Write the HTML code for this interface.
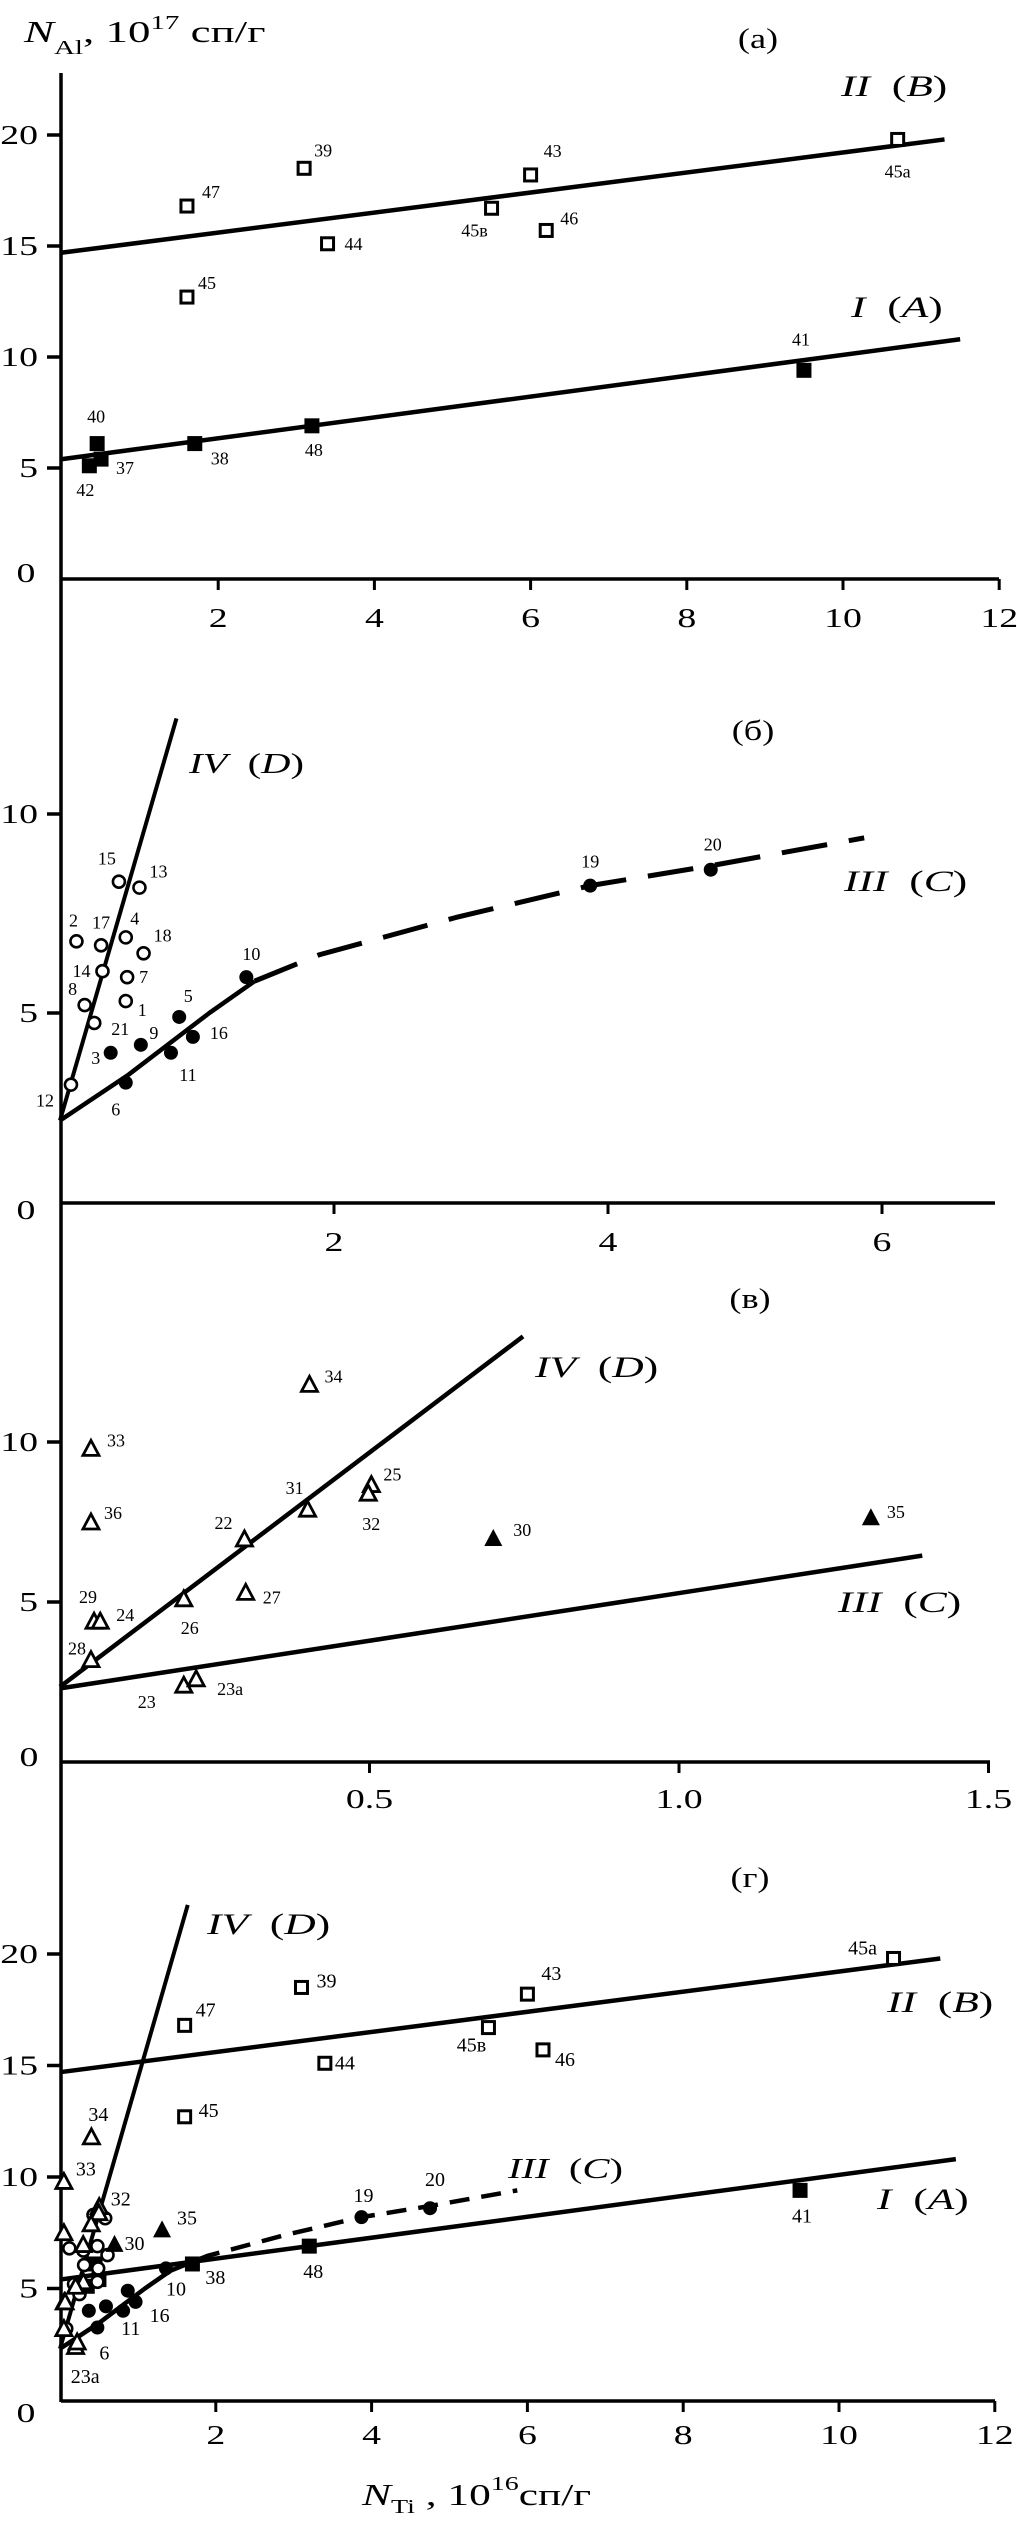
<!DOCTYPE html>
<html><head><meta charset="utf-8">
<style>
html,body{margin:0;padding:0;background:#fff;}
svg{display:block;}
text{font-family:"Liberation Serif","DejaVu Serif",serif;fill:#000;}
</style></head>
<body>
<svg id="fig" width="1017" height="2522" viewBox="0 0 1017 2522" xmlns="http://www.w3.org/2000/svg"></svg>
<script>
// ---------- DATA ----------
const openSqLabels = ["47","39","43","45а","45в","46","44","45"];
const openSqX = [1.6,3.1,6.0,10.7,5.5,6.2,3.4,1.6];
const openSqY = [16.8,18.5,18.2,19.8,16.7,15.7,15.1,12.7];
const fillSqLabels = ["41","40","37","42","38","48"];
const fillSqX = [9.5,0.45,0.5,0.35,1.7,3.2];
const fillSqY = [9.4,6.1,5.4,5.1,6.1,6.9];
const openCircLabels = ["15","13","2","17","4","18","14","7","8","1","21","12"];
const openCircX = [0.43,0.58,0.12,0.30,0.48,0.61,0.31,0.49,0.18,0.48,0.25,0.08];
const openCircY = [8.3,8.15,6.8,6.7,6.9,6.5,6.05,5.9,5.2,5.3,4.75,3.2];
const fillCircLabels = ["5","16","9","3","11","6","10","19","20"];
const fillCircX = [0.87,0.97,0.59,0.37,0.81,0.48,1.36,3.87,4.75];
const fillCircY = [4.9,4.4,4.2,4.0,4.0,3.25,5.9,8.2,8.6];
const openTriLabels = ["34","33","36","25","32","31","22","27","26","29","24","28","23","23а"];
const openTriX = [0.403,0.05,0.05,0.503,0.498,0.40,0.298,0.30,0.20,0.055,0.065,0.05,0.20,0.22];
const openTriY = [11.8,9.8,7.5,8.67,8.4,7.9,6.97,5.3,5.1,4.4,4.4,3.2,2.4,2.6];
const fillTriLabels = ["30","35"];
const fillTriX = [0.70,1.31];
const fillTriY = [7.0,7.65];
// fit lines [x0,y0,x1,y1]
const lineI = [0,5.4,11.5,10.8];
const lineII = [0,14.7,11.3,19.8];
const lineIVb = [0,2.3,0.85,12.4];
const lineIVg = [0,2.3,1.64,22.2];
const curveIIIsolidX = [0,0.5,1.09,1.42];
const curveIIIsolidY = [2.3,3.45,5.0,5.8];
const curveIIIdashX = [1.42,1.89,2.89,3.87,4.75,5.87];
const curveIIIdashY = [5.8,6.46,7.4,8.2,8.7,9.4];
const lineIIIv = [0,2.3,1.393,6.45];
const lineIVv = [0,2.35,0.748,13.3];
// ticks
const ticksAX = [2,4,6,8,10,12], ticksAY = [0,5,10,15,20];
const ticksBX = [2,4,6], ticksBY = [0,5,10];
const ticksVX = [0.5,1.0,1.5], ticksVXlab = ["0.5","1.0","1.5"], ticksVY = [0,5,10];
const ticksGX = [2,4,6,8,10,12], ticksGY = [0,5,10,15,20];

// ---------- label offsets (style) ----------
const offA = {"47":[15,-14,"start"],"39":[10,-18,"start"],"43":[13,-24,"start"],"45а":[0,32,"middle"],"45в":[-17,22,"middle"],"46":[14,-12,"start"],"44":[17,0,"start"],"45":[11,-14,"start"],"41":[-3,-31,"middle"],"40":[-1,-27,"middle"],"37":[15,9,"start"],"42":[-4,24,"middle"],"38":[16,15,"start"],"48":[2,24,"middle"]};
const offB = {"15":[-12,-23,"middle"],"13":[10,-16,"start"],"2":[-3,-21,"middle"],"17":[0,-23,"middle"],"4":[9,-19,"middle"],"18":[10,-18,"start"],"14":[-21,0,"middle"],"7":[12,0,"start"],"8":[-12,-16,"middle"],"1":[12,9,"start"],"21":[26,6,"middle"],"12":[-26,16,"middle"],"3":[-15,5,"middle"],"9":[13,-12,"middle"],"5":[9,-21,"middle"],"16":[17,-4,"start"],"11":[17,22,"middle"],"6":[-10,27,"middle"],"10":[5,-23,"middle"],"19":[0,-24,"middle"],"20":[2,-25,"middle"]};
const offV = {"34":[15,-8,"start"],"33":[16,-8,"start"],"36":[13,-9,"start"],"25":[12,-10,"start"],"32":[3,31,"middle"],"31":[-13,-21,"middle"],"22":[-21,-16,"middle"],"27":[17,5,"start"],"26":[6,29,"middle"],"29":[-6,-24,"middle"],"24":[16,-6,"start"],"28":[-14,-11,"middle"],"23":[-37,17,"middle"],"23а":[21,10,"start"],"30":[20,-8,"start"],"35":[16,-5,"start"]};
const offG = {"45а":[-31,-10,"middle"],"39":[15,-6,"start"],"43":[14,-20,"start"],"47":[11,-15,"start"],"45в":[-17,18,"middle"],"46":[12,10,"start"],"44":[10,0,"start"],"45":[14,-6,"start"],"41":[2,26,"middle"],"48":[4,26,"middle"],"38":[13,14,"start"],"34":[7,-22,"middle"],"33":[22,-12,"middle"],"32":[12,-13,"start"],"30":[10,0,"start"],"35":[15,-11,"start"],"23а":[8,35,"middle"],"6":[2,26,"start"],"11":[-2,18,"start"],"16":[14,14,"start"],"10":[10,21,"middle"],"19":[2,-21,"middle"],"20":[5,-28,"middle"]};

// ---------- helpers ----------
const svg = document.getElementById('fig');
const NS = 'http://www.w3.org/2000/svg';
function mk(tag, attrs, parent){ const e=document.createElementNS(NS,tag); for(const k in attrs) e.setAttribute(k,attrs[k]); (parent||svg).appendChild(e); return e; }
function txt(x,y,s,size,anchor,sx,parent){
  const t=mk('text',{transform:`translate(${x},${y}) scale(${sx||1},1)`,'font-size':size,'text-anchor':anchor||'start'},parent);
  t.textContent=s; return t;
}
function group(name){ const g=mk('g',{});   return g; }

function panel(key, X, Y, axY, xStart, xEnd, tx, txLab, ty, tyLabY, zeroLab){
  const g=group('panel-'+key);
  const ax=mk('line',{x1:xStart,y1:axY,x2:xEnd,y2:axY,stroke:'#000','stroke-width':3.5},g);
  
  
  tx.forEach((v,i)=>{
    const px=X(v);
    const tk=mk('line',{x1:px,y1:axY,x2:px,y2:axY+11,stroke:'#000','stroke-width':3},g);
    
    
    const t=txt(px,axY+tyLabY,txLab?txLab[i]:String(v),27,'middle',1.4,g);
    
    
  });
  ty.forEach(v=>{
    const py=Y(v);
    if(v!==0){
      const tk=mk('line',{x1:47,y1:py,x2:61,y2:py,stroke:'#000','stroke-width':3.5},g);
      
      
      const t=txt(38,py+9,String(v),27,'end',1.4,g);
      
      
    } else {
      const t=txt(zeroLab[0],zeroLab[1],'0',27,'middle',1.4,g);
      
      
    }
  });
  return g;
}
function line(g,X,Y,a,w,dash,name){
  const l=mk('line',{x1:X(a[0]),y1:Y(a[1]),x2:X(a[2]),y2:Y(a[3]),stroke:'#000','stroke-width':w||4.5},g);
  if(dash) l.setAttribute('stroke-dasharray',dash);
  
  
}
function poly(g,X,Y,xs,ys,w,dash,name){
  const p=mk('polyline',{points:xs.map((x,i)=>X(x)+','+Y(ys[i])).join(' '),fill:'none',stroke:'#000','stroke-width':w,'stroke-linejoin':'round'},g);
  if(dash) p.setAttribute('stroke-dasharray',dash);
  
  
}
function marker(g,type,px,py){
  let e;
  if(type==='osq') e=mk('rect',{x:px-6,y:py-6,width:12,height:12,fill:'#fff',stroke:'#000','stroke-width':3},g);
  else if(type==='fsq') e=mk('rect',{x:px-7.5,y:py-7.5,width:15,height:15,fill:'#000'},g);
  else if(type==='oc') e=mk('circle',{cx:px,cy:py,r:6,fill:'#fff',stroke:'#000','stroke-width':2.6},g);
  else if(type==='fc') e=mk('circle',{cx:px,cy:py,r:7,fill:'#000'},g);
  else if(type==='otri') e=mk('polygon',{points:`${px},${py-8} ${px-8},${py+7} ${px+8},${py+7}`,fill:'#fff',stroke:'#000','stroke-width':2.8,'stroke-linejoin':'miter'},g);
  else e=mk('polygon',{points:`${px},${py-9} ${px-9},${py+8} ${px+9},${py+8}`,fill:'#000'},g);
  return e;
}
function series(g,type,X,Y,xs,ys,labs,off,size,name){
  xs.forEach((x,i)=>{
    const px=X(x), py=Y(ys[i]);
    const m=marker(g,type,px,py);
    
    
    const o=off[labs[i]];
    if(o){
      const t=txt(px+o[0],py+o[1]+6,labs[i],size,o[2],1,g);
      
      
    }
  });
}
function lineLabel(g,x,y,roman,letter,size,name){
  const t=mk('text',{transform:`translate(${x},${y}) scale(1.45,1)`,'font-size':size},g);
  
  
  const a=mk('tspan',{'font-style':'italic'},t); a.textContent=roman;
  const b=mk('tspan',{},t); b.textContent='\u00a0\u00a0(';
  const c=mk('tspan',{'font-style':'italic'},t); c.textContent=letter;
  const d=mk('tspan',{},t); d.textContent=')';
}
function panelTitle(g,x,y,s){
  const t=txt(x,y,s,29,'middle',1.25,g);
  
  
}

// ---------- common y axis ----------
const yax=mk('line',{x1:61,y1:73,x2:61,y2:2402,stroke:'#000','stroke-width':3.5});



// y-axis title
const yt=mk('text',{transform:'translate(24,42) scale(1.45,1)','font-size':31});


(function(){const a=mk('tspan',{'font-style':'italic'},yt);a.textContent='N';
const b=mk('tspan',{'font-size':20,dy:12},yt);b.textContent='Al';
const c=mk('tspan',{dy:-12},yt);c.textContent=', 10';
const d=mk('tspan',{'font-size':20,dy:-13},yt);d.textContent='17';
const e=mk('tspan',{dy:13},yt);e.textContent=' сп/г';})();

// ---------- Panel A ----------
const XA=x=>62+x*78.1, YA=y=>579-y*22.2;
const gA=panel('a',XA,YA,579,61,999,ticksAX,null,ticksAY,48,[26,582]);
panelTitle(gA,758,48,'(а)');
line(gA,XA,YA,lineII,4.5,null,'fit-line-II');
line(gA,XA,YA,lineI,4.5,null,'fit-line-I');
series(gA,'osq',XA,YA,openSqX,openSqY,openSqLabels,offA,18,'open-square');
series(gA,'fsq',XA,YA,fillSqX,fillSqY,fillSqLabels,offA,18,'filled-square');
lineLabel(gA,841,96,'II','B',30,'line-label-II');
lineLabel(gA,851,317,'I','A',30,'line-label-I');

// ---------- Panel B ----------
const XB=x=>60+x*137, YB=y=>1212-y*39.8;
const gB=panel('b',XB,YB,1203,61,995,ticksBX,null,ticksBY,48,[26,1219]);
panelTitle(gB,753,740,'(б)');
line(gB,XB,YB,lineIVb,4,null,'fit-line-IV');
poly(gB,XB,YB,curveIIIsolidX,curveIIIsolidY,4.5,null,'fit-curve-III-solid');
poly(gB,XB,YB,curveIIIdashX,curveIIIdashY,5,'46 22','fit-curve-III-dashed');
series(gB,'oc',XB,YB,openCircX,openCircY,openCircLabels,offB,18,'open-circle');
series(gB,'fc',XB,YB,fillCircX,fillCircY,fillCircLabels,offB,18,'filled-circle');
lineLabel(gB,189,773,'IV','D',28,'line-label-IV');
lineLabel(gB,844,891,'III','C',30,'line-label-III');

// ---------- Panel V ----------
const XV=x=>60+x*619, YV=y=>1762-y*32;
const gV=panel('v',XV,YV,1762,61,990,ticksVX,ticksVXlab,ticksVY,46,[29,1766]);
panelTitle(gV,750,1308,'(в)');
line(gV,XV,YV,lineIVv,4.5,null,'fit-line-IV');
line(gV,XV,YV,lineIIIv,4.5,null,'fit-line-III');
series(gV,'otri',XV,YV,openTriX,openTriY,openTriLabels,offV,18,'open-triangle');
series(gV,'ftri',XV,YV,fillTriX,fillTriY,fillTriLabels,offV,18,'filled-triangle');
lineLabel(gV,535,1377,'IV','D',30,'line-label-IV');
lineLabel(gV,838,1612,'III','C',30,'line-label-III');

// ---------- Panel G ----------
const XG=x=>60+x*77.9, YG=y=>2400-y*22.3;
const gG=panel('g',XG,YG,2401,61,995,ticksGX,null,ticksGY,43,[26,2422]);
panelTitle(gG,750,1887,'(г)');
line(gG,XG,YG,lineII,4.5,null,'fit-line-II');
line(gG,XG,YG,lineI,4.5,null,'fit-line-I');
line(gG,XG,YG,lineIVg,4,null,'fit-line-IV');
poly(gG,XG,YG,curveIIIsolidX,curveIIIsolidY,4.5,null,'fit-curve-III-solid');
poly(gG,XG,YG,curveIIIdashX,curveIIIdashY,4.5,'20 12','fit-curve-III-dashed');
series(gG,'osq',XG,YG,openSqX,openSqY,openSqLabels,offG,20,'open-square');
series(gG,'fsq',XG,YG,fillSqX,fillSqY,fillSqLabels,offG,20,'filled-square');
series(gG,'oc',XG,YG,openCircX,openCircY,openCircLabels,offG,20,'open-circle');
series(gG,'fc',XG,YG,fillCircX,fillCircY,fillCircLabels,offG,20,'filled-circle');
series(gG,'otri',XG,YG,openTriX,openTriY,openTriLabels,offG,20,'open-triangle');
series(gG,'ftri',XG,YG,fillTriX,fillTriY,fillTriLabels,offG,20,'filled-triangle');
lineLabel(gG,207,1934,'IV','D',30,'line-label-IV');
lineLabel(gG,887,2012,'II','B',30,'line-label-II');
lineLabel(gG,508,2178,'III','C',28,'line-label-III');
lineLabel(gG,877,2209,'I','A',30,'line-label-I');

// x-axis title
const xt=mk('text',{transform:'translate(362,2505) scale(1.4,1)','font-size':31});


(function(){const a=mk('tspan',{'font-style':'italic'},xt);a.textContent='N';
const b=mk('tspan',{'font-size':20,dy:8},xt);b.textContent='Ti';
const c=mk('tspan',{dy:-8},xt);c.textContent=' , 10';
const d=mk('tspan',{'font-size':20,dy:-15},xt);d.textContent='16';
const e=mk('tspan',{dy:15},xt);e.textContent='сп/г';})();
</script>
</body></html>
